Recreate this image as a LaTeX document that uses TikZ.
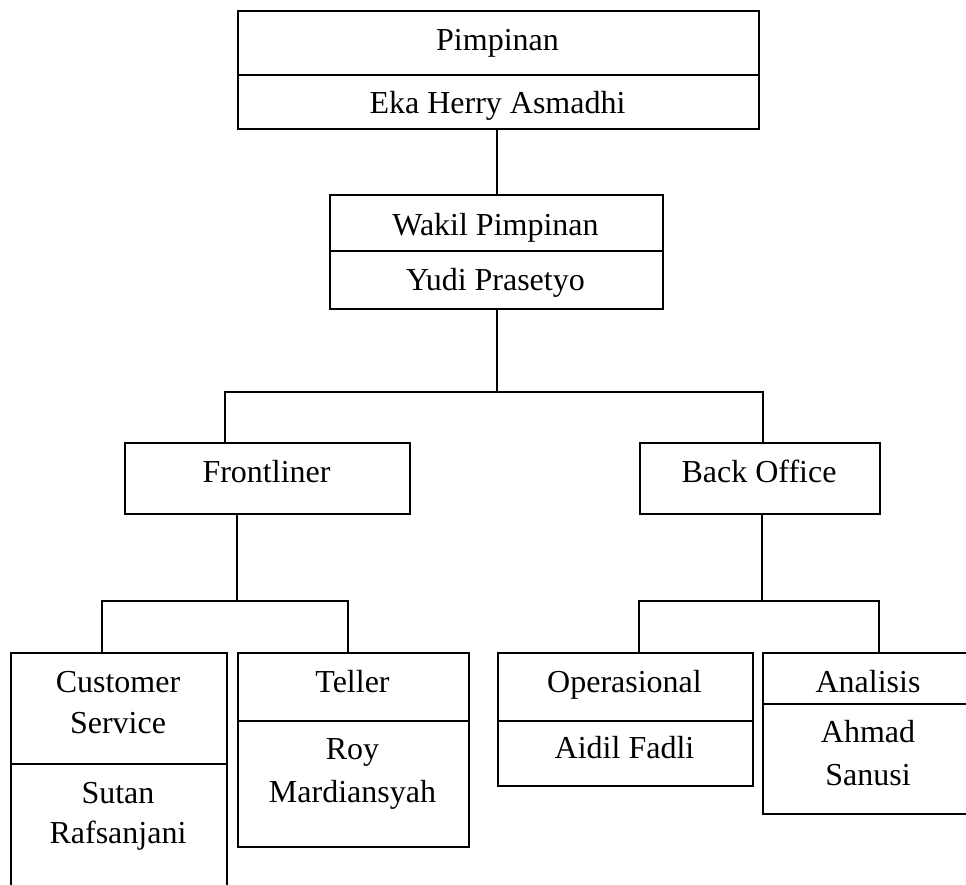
\documentclass[tikz,border=0pt]{standalone}
\usepackage{fontspec}
\setmainfont{Liberation Serif}
\begin{document}
\begin{tikzpicture}[x=1pt,y=-1pt,
  cell/.style={draw=black, line width=1.6pt, inner sep=0pt, anchor=north west},
  txt/.style={anchor=base, inner sep=0pt, font=\fontsize{32}{38}\selectfont},
  conn/.style={draw=black, line width=1.6pt}]
\useasboundingbox (0,0) rectangle (966,884);
\clip (0,0) rectangle (966,884);
% boxes
\node[cell, minimum width=521pt, minimum height=64pt] (pimA) at (237,10) {};
\node[cell, minimum width=521pt, minimum height=54pt] (pimB) at (237,74) {};
\node[cell, minimum width=333pt, minimum height=56pt] (wakA) at (329,194) {};
\node[cell, minimum width=333pt, minimum height=58pt] (wakB) at (329,250) {};
\node[cell, minimum width=285pt, minimum height=71pt] (front) at (124,442) {};
\node[cell, minimum width=240pt, minimum height=71pt] (back) at (639,442) {};
\node[cell, minimum width=216pt, minimum height=111pt] (csA) at (10,652) {};
\node[cell, minimum width=216pt, minimum height=150pt] (csB) at (10,763) {};
\node[cell, minimum width=231pt, minimum height=68pt] (telA) at (237,652) {};
\node[cell, minimum width=231pt, minimum height=126pt] (telB) at (237,720) {};
\node[cell, minimum width=255pt, minimum height=68pt] (opA) at (497,652) {};
\node[cell, minimum width=255pt, minimum height=65pt] (opB) at (497,720) {};
\node[cell, minimum width=212pt, minimum height=51pt] (anA) at (762,652) {};
\node[cell, minimum width=212pt, minimum height=110pt] (anB) at (762,703) {};
% texts
\node[txt] (t1) at (497.5,50) {Pimpinan};
\node[txt] (t2) at (497.5,113) {Eka Herry Asmadhi};
\node[txt] (t3) at (495.5,235) {Wakil Pimpinan};
\node[txt] (t4) at (495.5,290) {Yudi Prasetyo};
\node[txt] (t5) at (266.5,482) {Frontliner};
\node[txt] (t6) at (759,482) {Back Office};
\node[txt] (t7) at (118,692) {Customer};
\node[txt] (t8) at (118,733) {Service};
\node[txt] (t9) at (118,803) {Sutan};
\node[txt] (t10) at (118,843) {Rafsanjani};
\node[txt] (t11) at (352.5,692) {Teller};
\node[txt] (t12) at (352.5,759) {Roy};
\node[txt] (t13) at (352.5,802) {Mardiansyah};
\node[txt] (t14) at (624.5,692) {Operasional};
\node[txt] (t15) at (624.5,758) {Aidil Fadli};
\node[txt] (t16) at (868,692) {Analisis};
\node[txt] (t17) at (868,742) {Ahmad};
\node[txt] (t18) at (868,785) {Sanusi};
% junction coordinates
\coordinate (p1) at (497,128);
\coordinate (h1l) at (225,392);
\coordinate (h1r) at (763,392);
\coordinate (h1c) at (497,392);
\coordinate (f1) at (237,513);
\coordinate (h2l) at (102,601);
\coordinate (h2r) at (348,601);
\coordinate (b1) at (762,513);
\coordinate (h3l) at (639,601);
\coordinate (h3r) at (879,601);
% connectors
\draw[conn] (p1) -- (p1 |- wakA.north);
\draw[conn] (h1c |- wakB.south) -- (h1c);
\draw[conn] (h1l |- front.north) -- (h1l) -- (h1r) -- (h1r |- back.north);
\draw[conn] (f1) -- (f1 |- h2l);
\draw[conn] (h2l |- csA.north) -- (h2l) -- (h2r) -- (h2r |- telA.north);
\draw[conn] (b1) -- (b1 |- h3l);
\draw[conn] (h3l |- opA.north) -- (h3l) -- (h3r) -- (h3r |- anA.north);
\end{tikzpicture}
\end{document}
